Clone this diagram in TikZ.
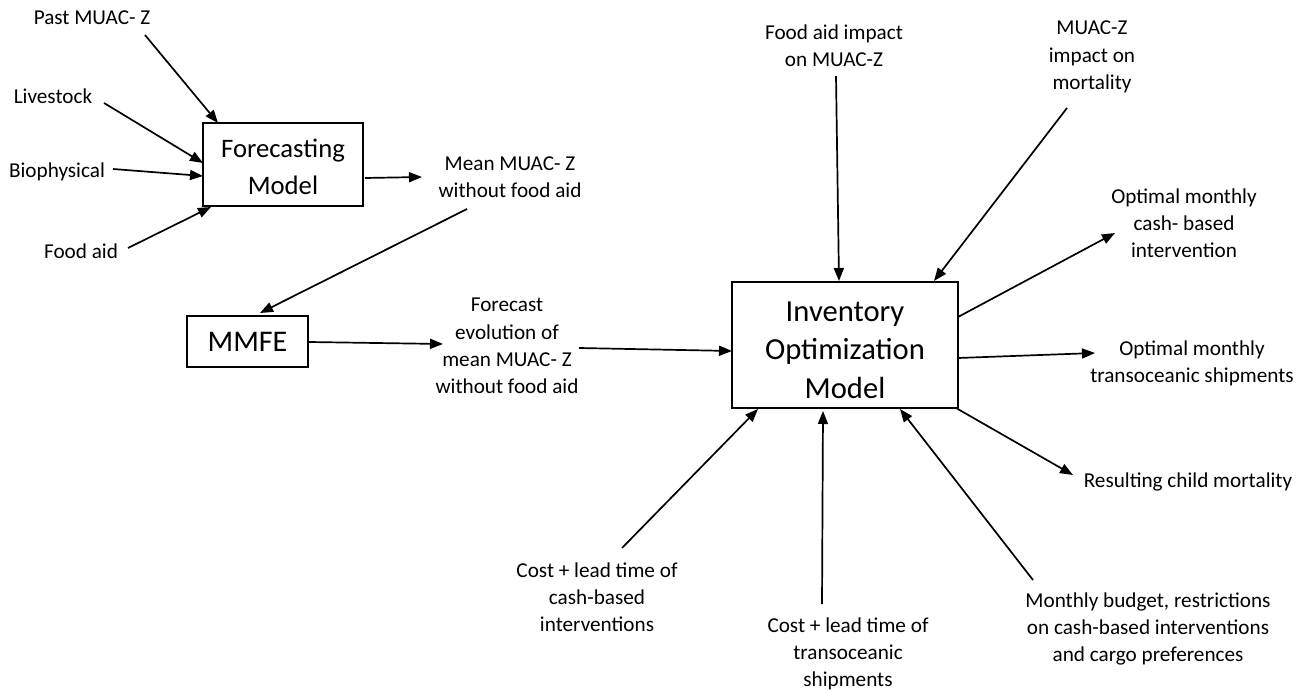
\documentclass[tikz,border=0pt]{standalone}
\usepackage{fontspec}
\setmainfont{Carlito}
\usetikzlibrary{arrows.meta,calc}
\begin{document}
\begin{tikzpicture}[x=1pt,y=-1pt,
  lbl/.style={font=\fontsize{21.2}{27.2}\selectfont, align=center, inner sep=0pt},
  boxnode/.style={draw, line width=1.6pt, inner sep=0pt},
  boxtext/.style={align=center, inner sep=0pt},
  arr/.style={line width=1.7pt, -{Triangle[length=13pt,width=10pt]}}]
\useasboundingbox (0,0) rectangle (1308,692);

% boxes
\node[boxnode, minimum width=160pt, minimum height=83pt] (fc) at (283,164.5) {};
\node[boxtext, font=\fontsize{26.7}{37}\selectfont] (fctext) at ($(fc)+(0,2)$) {Forecasting\\Model};
\node[boxnode, minimum width=121pt, minimum height=51pt,
      font=\fontsize{30}{38}\selectfont] (mmfe) at (247.5,341.5) {MMFE};
\node[boxnode, minimum width=226pt, minimum height=126pt] (inv) at (845,345) {};
\node[boxtext, font=\fontsize{30.6}{38.5}\selectfont] (invtext) at ($(inv)+(0,5)$) {Inventory\\Optimization\\Model};

% labels
\node[lbl] (past) at (92,18) {Past MUAC- Z};
\node[lbl] (live) at (53,96) {Livestock};
\node[lbl] (bio) at (57,172) {Biophysical};
\node[lbl] (faid) at (81,251) {Food aid};
\node[lbl] (mean) at (510,177) {Mean MUAC- Z\\without food aid};
\node[lbl] (fcst) at (507,346) {Forecast\\evolution of\\mean MUAC- Z\\without food aid};
\node[lbl] (fimp) at (834,46) {Food aid impact\\on MUAC-Z};
\node[lbl] (mimp) at (1092,57) {MUAC-Z\\impact on\\mortality};
\node[lbl] (ocash) at (1184,223) {Optimal monthly\\cash- based\\intervention};
\node[lbl] (otrans) at (1192,363) {Optimal monthly\\transoceanic shipments};
\node[lbl] (res) at (1188,482) {Resulting child mortality};
\node[lbl] (cc) at (597,597) {Cost + lead time of\\cash-based\\interventions};
\node[lbl] (ct) at (848,654) {Cost + lead time of\\transoceanic\\shipments};
\node[lbl] (mb) at (1148,629) {Monthly budget, restrictions\\on cash-based interventions\\and cargo preferences};

% connectors
\draw[arr] ($(past)+(53,17)$) -- ($(fc)+(-65,-41.5)$);
\draw[arr] ($(live)+(51,7)$) -- ($(fc)+(-80,-1.5)$);
\draw[arr] ($(bio)+(56,-3)$) -- ($(fc)+(-80,11.5)$);
\draw[arr] ($(faid)+(47,-3)$) -- ($(fc)+(-72,42.5)$);
\draw[arr] ($(fc)+(82,13.5)$) -- ($(mean)+(-88,0)$);
\draw[arr] ($(mean)+(-43,32)$) -- ($(mmfe)+(12.5,-28.5)$);
\draw[arr] ($(mmfe)+(61.5,0.5)$) -- ($(fcst)+(-64,-2)$);
\draw[arr] ($(fcst)+(72,2)$) -- ($(inv)+(-113,6)$);
\draw[arr] ($(fimp)+(2,30)$) -- ($(inv)+(-6,-64)$);
\draw[arr] ($(mimp)+(-25,51)$) -- ($(inv)+(89,-64)$);
\draw[arr] ($(inv)+(113,-28)$) -- ($(ocash)+(-69,10)$);
\draw[arr] ($(inv)+(113,13)$) -- ($(otrans)+(-97,-10)$);
\draw[arr] ($(inv)+(111,63)$) -- ($(res)+(-115,-7)$);
\draw[arr] ($(cc)+(25,-49)$) -- ($(inv)+(-87,64)$);
\draw[arr] ($(ct)+(-26,-50)$) -- ($(inv)+(-22,66)$);
\draw[arr] ($(mb)+(-115,-49)$) -- ($(inv)+(55,64)$);
\end{tikzpicture}
\end{document}
